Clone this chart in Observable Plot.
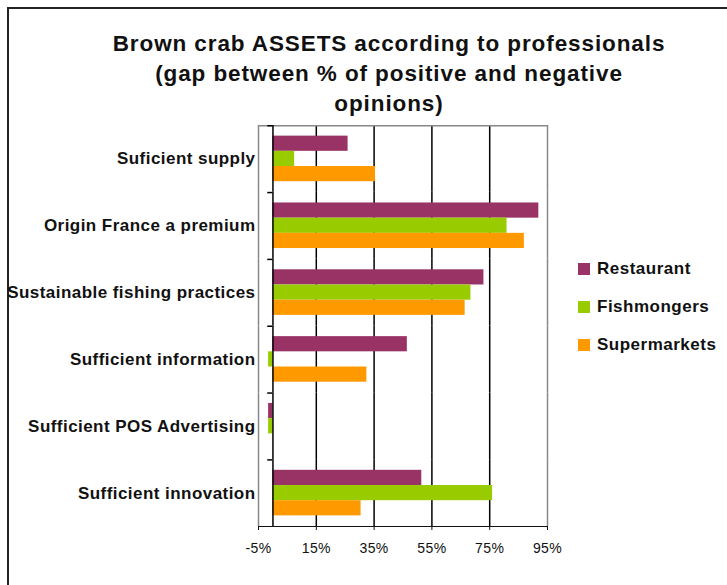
<!DOCTYPE html>
<html>
<head>
<meta charset="utf-8">
<script src="https://cdn.jsdelivr.net/npm/d3@7"></script>
<script src="https://cdn.jsdelivr.net/npm/@observablehq/plot@0.6"></script>
<style>
  html, body { margin: 0; padding: 0; background: #fff; }
  #wrap { position: relative; width: 727px; height: 585px; overflow: hidden; font-family: "Liberation Sans", Arial, sans-serif; }
  #border { position: absolute; left: 7px; top: 7px; width: 760px; height: 620px; border: 2px solid #222; box-sizing: border-box; }
  #title { position: absolute; left: 0; top: 29px; width: 778px; text-align: center; font-weight: bold; font-size: 22.5px; letter-spacing: 0.9px; line-height: 30px; color: #111; }
  #chart { position: absolute; left: 0; top: 0; }
  #legend { position: absolute; left: 578px; top: 259px; font-weight: bold; font-size: 17px; letter-spacing: 0.5px; color: #111; }
  #legend div { height: 38px; display: flex; align-items: flex-start; }
  #legend span.sw { display: inline-block; width: 12px; height: 12px; margin-right: 7px; margin-top: 4px; }
</style>
</head>
<body>
<div id="wrap">
  <div id="border"></div>
  <div id="title">Brown crab ASSETS according to professionals<br>(gap between % of positive and negative<br>opinions)</div>
  <div id="chart"></div>
  <div id="legend"></div>
</div>
<script>
const categories = ["Suficient supply", "Origin France a premium", "Sustainable fishing practices", "Sufficient information", "Sufficient POS Advertising", "Sufficient innovation"];
const series = ["Restaurant", "Fishmongers", "Supermarkets"];
const colors = ["#993366", "#99CC00", "#FF9900"];
const restaurant = [26, 92, 73, 46.5, -1.5, 51.5];
const fishmongers = [7.5, 81, 68.5, -1.5, -1.5, 76];
const supermarkets = [35.5, 87, 66.5, 32.5, 0, 30.5];
const xTicks = [-5, 15, 35, 55, 75, 95];

const values = [restaurant, fishmongers, supermarkets];
const data = [];
categories.forEach((c, i) => series.forEach((s, j) => data.push({category: c, series: s, value: values[j][i]})));

const chart = Plot.plot({
  width: 727,
  height: 585,
  marginLeft: 258,
  marginRight: 180,
  marginTop: 125,
  marginBottom: 59,
  style: {fontFamily: "Liberation Sans, Arial, sans-serif", background: "transparent", color: "#111"},
  x: {domain: [-5, 95], ticks: xTicks, tickFormat: d => d + "%", tickSize: 4, tickPadding: 13, label: null, line: true},
  y: {domain: series, axis: null, paddingInner: 0, paddingOuter: 0.7, round: false},
  fy: {domain: categories, padding: 0, label: null, tickSize: 0, tickPadding: 3, round: false},
  color: {domain: series, range: colors},
  marks: [
    Plot.ruleX(xTicks, {x: d => d, stroke: d => (d === -5 || d === 95) ? "#888" : "#000", strokeWidth: 1.5}),
    Plot.ruleY([categories[0]], {fy: d => d, y: () => "Restaurant", dy: -18, x1: -5, x2: 95, stroke: "#888", strokeWidth: 1.5}),
    Plot.barX(data, {fy: "category", y: "series", x: "value", fill: "series"}),
    Plot.ruleX(categories, {fy: d => d, x: () => 0, stroke: "#000", strokeWidth: 1.5}),
    Plot.ruleY(categories, {fy: d => d, y: () => "Restaurant", dy: -18, x1: -1.8, x2: 0, stroke: "#000", strokeWidth: 1.5})
  ]
});
chart.querySelectorAll("g[aria-label='fy-axis tick label'] text, g[aria-label='fy-axis'] text").forEach(t => {
  t.style.fontWeight = "bold"; t.style.fontSize = "17px"; t.style.letterSpacing = "0.45px";
});
chart.querySelectorAll("g[aria-label='x-axis tick label'] text, g[aria-label='x-axis'] text").forEach(t => {
  t.style.fontSize = "14px"; t.style.letterSpacing = "0.4px";
});
document.getElementById("chart").appendChild(chart);

const legend = document.getElementById("legend");
series.forEach((s, i) => {
  const row = document.createElement("div");
  row.innerHTML = `<span class="sw" style="background:${colors[i]}"></span><span>${s}</span>`;
  legend.appendChild(row);
});
</script>
</body>
</html>
